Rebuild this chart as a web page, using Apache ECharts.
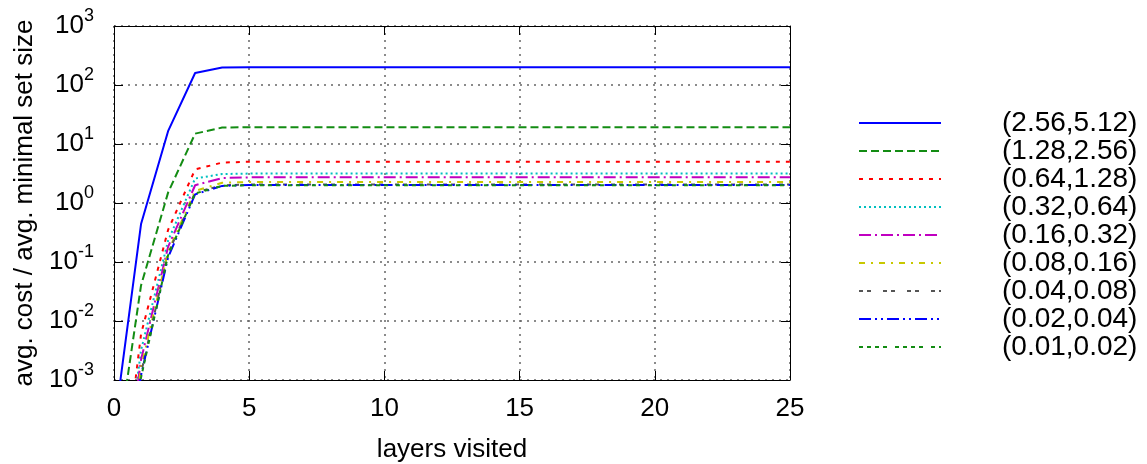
<!DOCTYPE html>
<html>
<head>
<meta charset="utf-8">
<script src="https://cdn.jsdelivr.net/npm/echarts@6/dist/echarts.min.js"></script>
<style>
  html, body { margin: 0; background: #fff; }
  #chart { width: 1147px; height: 464px; }
</style>
</head>
<body>
<div id="chart"></div>
<script>
const FONT = "'Liberation Sans', Arial, sans-serif";

// layers visited (x)
const layers = [0, 1, 2, 3, 4, 5, 6, 7, 8, 9, 10, 11, 12, 13, 14, 15, 16, 17, 18, 19, 20, 21, 22, 23, 24, 25];

const seriesNames = [
  "(2.56,5.12)", "(1.28,2.56)", "(0.64,1.28)", "(0.32,0.64)", "(0.16,0.32)",
  "(0.08,0.16)", "(0.04,0.08)", "(0.02,0.04)", "(0.01,0.02)"
];

// avg. cost / avg. minimal set size
const cost256 = [0.00015, 0.44, 16.5, 160, 198,
  200, 200, 200, 200, 200, 200, 200, 200, 200, 200, 200, 200, 200, 200, 200, 200, 200, 200, 200, 200, 200];
const cost128 = [0.00003, 0.04, 1.5, 15, 19,
  19.3, 19.3, 19.3, 19.3, 19.3, 19.3, 19.3, 19.3, 19.3, 19.3, 19.3, 19.3, 19.3, 19.3, 19.3, 19.3, 19.3, 19.3, 19.3, 19.3, 19.3];
const cost064 = [0.000001, 0.006, 0.35, 3.7, 4.85,
  5.0, 5.0, 5.0, 5.0, 5.0, 5.0, 5.0, 5.0, 5.0, 5.0, 5.0, 5.0, 5.0, 5.0, 5.0, 5.0, 5.0, 5.0, 5.0, 5.0, 5.0];
const cost032 = [0.000001, 0.0032, 0.23, 2.6, 3.1,
  3.15, 3.15, 3.15, 3.15, 3.15, 3.15, 3.15, 3.15, 3.15, 3.15, 3.15, 3.15, 3.15, 3.15, 3.15, 3.15, 3.15, 3.15, 3.15, 3.15, 3.15];
const cost016 = [0.000001, 0.0022, 0.18, 2.0, 2.65,
  2.72, 2.72, 2.72, 2.72, 2.72, 2.72, 2.72, 2.72, 2.72, 2.72, 2.72, 2.72, 2.72, 2.72, 2.72, 2.72, 2.72, 2.72, 2.72, 2.72, 2.72];
const cost008 = [0.000001, 0.0016, 0.15, 1.6, 2.2,
  2.27, 2.27, 2.27, 2.27, 2.27, 2.27, 2.27, 2.27, 2.27, 2.27, 2.27, 2.27, 2.27, 2.27, 2.27, 2.27, 2.27, 2.27, 2.27, 2.27, 2.27];
const cost004 = [0.000001, 0.0013, 0.14, 1.5, 2.0,
  2.05, 2.05, 2.05, 2.05, 2.05, 2.05, 2.05, 2.05, 2.05, 2.05, 2.05, 2.05, 2.05, 2.05, 2.05, 2.05, 2.05, 2.05, 2.05, 2.05, 2.05];
const cost002 = [0.000001, 0.0012, 0.12, 1.4, 1.95,
  2.02, 2.02, 2.02, 2.02, 2.02, 2.02, 2.02, 2.02, 2.02, 2.02, 2.02, 2.02, 2.02, 2.02, 2.02, 2.02, 2.02, 2.02, 2.02, 2.02, 2.02];
const cost001 = [0.000001, 0.0011, 0.13, 1.45, 1.95,
  2.0, 2.0, 2.0, 2.0, 2.0, 2.0, 2.0, 2.0, 2.0, 2.0, 2.0, 2.0, 2.0, 2.0, 2.0, 2.0, 2.0, 2.0, 2.0, 2.0, 2.0];

const allCosts = [cost256, cost128, cost064, cost032, cost016, cost008, cost004, cost002, cost001];

// gnuplot-like line styles
const lineStyles = [
  { color: "#0000ff", type: "solid" },
  { color: "#138c13", type: [8, 4] },
  { color: "#ff0000", type: [4, 6] },
  { color: "#00c0c0", type: [2, 3] },
  { color: "#c000c0", type: [12, 4, 2, 4] },
  { color: "#c8c800", type: [6, 6, 2, 6] },
  { color: "#555555", type: [4, 4, 4, 12] },
  { color: "#0000ff", type: [12, 4, 2, 4, 2, 4] },
  { color: "#138c13", type: [4, 4, 4, 4, 4, 4, 4, 8] }
];

const chart = echarts.init(document.getElementById("chart"), null, { renderer: "canvas" });

const series = seriesNames.map((name, i) => ({
  name: name,
  type: "line",
  symbol: "none",
  showSymbol: false,
  clip: true,
  animation: false,
  color: lineStyles[i].color,
  lineStyle: {
    width: 2,
    color: lineStyles[i].color,
    type: lineStyles[i].type,
    cap: "butt"
  },
  data: layers.map((x, j) => [x, allCosts[i][j]])
}));

const labelText = { color: "#000", fontFamily: FONT, fontSize: 26 };

chart.setOption({
  backgroundColor: "#fff",
  animation: false,
  textStyle: { fontFamily: FONT },
  grid: { left: 114, top: 26, right: 357, bottom: 84, containLabel: false, outerBoundsMode: "none" },
  legend: {
    orient: "vertical",
    left: 858,
    top: 109,
    padding: 0,
    itemWidth: 82,
    itemHeight: 20,
    itemGap: 0,
    itemStyle: { opacity: 0, borderWidth: 0 },
    textStyle: { color: "#000", fontFamily: FONT, fontSize: 28, padding: [0, 0, 0, 56], lineHeight: 28 },
    data: seriesNames
  },
  xAxis: [{
    type: "value",
    min: 0,
    max: 25,
    interval: 5,
    name: "layers visited",
    nameLocation: "middle",
    nameGap: 57,
    nameTextStyle: labelText,
    axisLine: { show: true, onZero: false, lineStyle: { color: "#000", width: 1 } },
    axisTick: { show: true, inside: true, length: 9, lineStyle: { color: "#000" } },
    axisLabel: Object.assign({}, labelText, { margin: 16 }),
    splitLine: { show: true, lineStyle: { color: "#666", width: 1.5, type: [2, 5] } }
  }, {
    type: "value",
    position: "top",
    min: 0,
    max: 25,
    interval: 5,
    axisLine: { show: true, onZero: false, lineStyle: { color: "#000", width: 1 } },
    axisTick: { show: true, inside: true, length: 9, lineStyle: { color: "#000" } },
    axisLabel: { show: false },
    splitLine: { show: false }
  }],
  yAxis: [{
    type: "log",
    logBase: 10,
    min: 0.001,
    max: 1000,
    splitNumber: 6,
    name: "avg. cost / avg. minimal set size",
    nameLocation: "middle",
    nameGap: 68,
    nameTextStyle: labelText,
    axisLine: { show: true, onZero: false, lineStyle: { color: "#000", width: 1 } },
    axisTick: { show: true, inside: true, length: 9, lineStyle: { color: "#000" } },
    minorTick: { show: false },
    axisLabel: {
      margin: 20,
      formatter: (v) => "{b|10}{s|" + Math.round(Math.log10(v)) + "}",
      rich: {
        b: { color: "#000", fontFamily: FONT, fontSize: 26 },
        s: { color: "#000", fontFamily: FONT, fontSize: 18, padding: [0, 0, 20, 0] }
      }
    },
    splitLine: { show: true, lineStyle: { color: "#666", width: 1.5, type: [2, 5] } }
  }, {
    type: "log",
    logBase: 10,
    position: "right",
    min: 0.001,
    max: 1000,
    splitNumber: 6,
    axisLine: { show: true, onZero: false, lineStyle: { color: "#000", width: 1 } },
    axisTick: { show: true, inside: true, length: 9, lineStyle: { color: "#000" } },
    axisLabel: { show: false },
    splitLine: { show: false }
  }],
  series: series
});
</script>
</body>
</html>
